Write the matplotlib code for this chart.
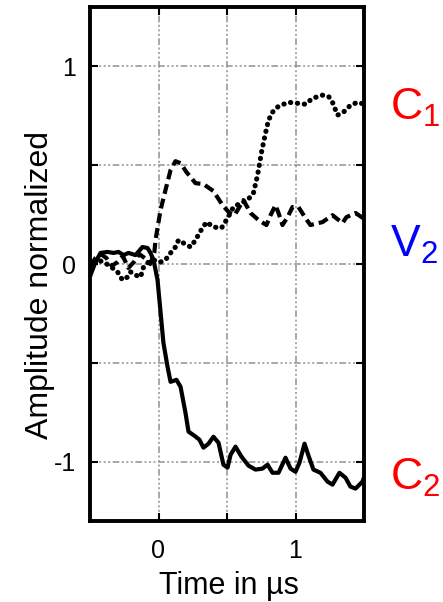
import numpy as np
import matplotlib
matplotlib.use("Agg")
import matplotlib.pyplot as plt

# ── data (time in us, normalized amplitude) ─────────────────────────────
t_c2 = [-0.496, -0.460, -0.423, -0.372, -0.328, -0.292, -0.255, -0.219,
        -0.168, -0.117, -0.080, -0.058, -0.036, -0.007, 0.036, 0.066,
        0.088, 0.131, 0.161, 0.197, 0.219, 0.263, 0.299, 0.328, 0.365,
        0.401, 0.438, 0.474, 0.504, 0.526, 0.562, 0.606, 0.657, 0.708,
        0.759, 0.796, 0.832, 0.876, 0.927, 0.964, 1.000, 1.029, 1.066,
        1.095, 1.131, 1.182, 1.234, 1.270, 1.321, 1.365, 1.401, 1.438,
        1.489, 1.504]
a_c2 = [-0.056, 0.010, 0.056, 0.061, 0.056, 0.061, 0.045, 0.056,
        0.045, 0.086, 0.081, 0.056, 0.020, -0.081, -0.399, -0.520,
        -0.596, -0.586, -0.621, -0.753, -0.848, -0.869, -0.889, -0.929,
        -0.909, -0.874, -0.904, -1.015, -1.030, -0.965, -0.924, -0.975,
        -1.020, -1.040, -1.035, -1.015, -1.056, -1.056, -0.980, -1.035,
        -1.051, -1.005, -0.909, -0.970, -1.040, -1.056, -1.101, -1.116,
        -1.056, -1.081, -1.126, -1.136, -1.101, -1.071]

t_v2 = [-0.50, -0.46, -0.42, -0.38, -0.34, -0.30, -0.26, -0.22, -0.18,
        -0.14, -0.10, -0.06, -0.03, -0.022, 0.015, 0.051, 0.088, 0.124,
        0.161, 0.204, 0.270, 0.328, 0.401, 0.467, 0.518, 0.555, 0.620,
        0.672, 0.730, 0.788, 0.818, 0.854, 0.876, 0.905, 0.942, 0.978,
        1.022, 1.073, 1.109, 1.197, 1.270, 1.343, 1.372, 1.438, 1.504]
a_v2 = [-0.01, 0.03, 0.05, 0.03, -0.01, 0.01, 0.04, -0.02, 0.01,
        0.05, 0.03, 0.00, 0.06, 0.121, 0.273, 0.374, 0.475, 0.520,
        0.510, 0.465, 0.409, 0.404, 0.369, 0.298, 0.258, 0.247, 0.323,
        0.258, 0.222, 0.197, 0.247, 0.298, 0.258, 0.197, 0.237, 0.288,
        0.288, 0.232, 0.197, 0.212, 0.247, 0.207, 0.237, 0.258, 0.227]

t_c1 = [-0.496, -0.445, -0.40, -0.336, -0.299, -0.263, -0.226, -0.204,
        -0.168, -0.131, -0.109, -0.073, -0.022, 0.015, 0.050, 0.088,
        0.124, 0.146, 0.182, 0.234, 0.270, 0.307, 0.350, 0.401, 0.460,
        0.504, 0.547, 0.599, 0.650, 0.693, 0.723, 0.752, 0.781, 0.803,
        0.832, 0.876, 0.949, 1.015, 1.073, 1.124, 1.197, 1.241, 1.270,
        1.307, 1.350, 1.401, 1.453, 1.504]
a_c1 = [-0.02, 0.02, 0.01, -0.02, -0.04, -0.081, -0.066, -0.04,
        -0.056, -0.066, -0.015, 0.01, 0.02, 0.01, 0.02, 0.056,
        0.086, 0.121, 0.106, 0.086, 0.121, 0.167, 0.212, 0.187, 0.182,
        0.232, 0.288, 0.308, 0.323, 0.359, 0.449, 0.566, 0.662, 0.727,
        0.768, 0.798, 0.818, 0.813, 0.808, 0.838, 0.854, 0.848, 0.818,
        0.753, 0.768, 0.803, 0.818, 0.808]

x_ticks = [0, 0.5, 1]
x_ticklabels = ["0", "", "1"]
y_ticks = [-1, -0.5, 0, 0.5, 1]
y_ticklabels = ["-1", "", "0", "", "1"]

plt.rcParams.update({"font.family": "Liberation Sans",
                     "mathtext.default": "regular"})

fig = plt.figure(figsize=(4.43, 6.02), dpi=100)
ax = fig.add_axes([90 / 443, 81 / 602, 274 / 443, 514 / 602])

lw = 3.0
ax.plot(t_c1, a_c1, color="black", lw=3.7, linestyle=(0, (0.05, 1.3)),
        dash_capstyle="round")
ax.plot(t_v2, a_v2, color="black", lw=lw, linestyle=(0, (2.4, 1.2)),
        dash_capstyle="butt")
ax.plot(t_c2, a_c2, color="black", lw=lw, solid_joinstyle="round")

ax.set_xlim(-0.5, 1.5)
ax.set_ylim(-1.3, 1.3)
ax.set_xticks(x_ticks)
ax.set_xticklabels(x_ticklabels)
ax.set_yticks(y_ticks)
ax.set_yticklabels(y_ticklabels)
ax.grid(True, color="#999999", lw=1.2,
        linestyle=(0, (4, 1.5, 1.2, 1.5, 1.2, 1.5, 1.2, 1.5)))
ax.tick_params(direction="in", length=6, width=1.5, labelsize=18,
               top=True, right=True, pad=10)
ax.tick_params(axis="x", pad=13)
for s in ax.spines.values():
    s.set_linewidth(2.8)

ax.set_xlabel("Time in µs", fontsize=22)
ax.set_ylabel("Amplitude normalized", fontsize=23)
ax.xaxis.set_label_coords(0.507, -0.098)
ax.yaxis.set_label_coords(-0.128, 0.459)

fig.text(390 / 443, 1 - 120 / 602, r"C$_1$", color="red", fontsize=32,
         ha="left", va="baseline")
fig.text(390 / 443, 1 - 257 / 602, r"V$_2$", color="blue", fontsize=32,
         ha="left", va="baseline")
fig.text(390 / 443, 1 - 490 / 602, r"C$_2$", color="red", fontsize=32,
         ha="left", va="baseline")

fig.savefig("out.png", dpi=100)
